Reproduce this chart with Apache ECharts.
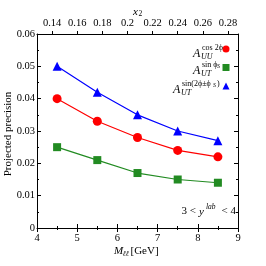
<!DOCTYPE html>
<html><head><meta charset="utf-8">
<script src="https://cdn.jsdelivr.net/npm/echarts@6/dist/echarts.min.js"></script>
<style>html,body{margin:0;padding:0;background:#fff}#c{width:266px;height:266px}</style>
</head><body><div id="c"></div>
<script>
// ---- data ----
const massBins = [4.5, 5.5, 6.5, 7.5, 8.5];            // M_ll [GeV]
const precUUcos2phi = [0.040, 0.033, 0.028, 0.024, 0.022];
const precUTsinphiS = [0.025, 0.021, 0.017, 0.015, 0.014];
const precUTsin2phiS = [0.050, 0.042, 0.035, 0.030, 0.027];
const seriesNames = ['UUcos2phi', 'UTsinphiS', 'UTsin2phiS'];
const massTicksRange = [4, 9];
const x2TickLabels = [0.14, 0.16, 0.18, 0.2, 0.22, 0.24, 0.26, 0.28];
const x2Range = [0.128, 0.288];
const yRange = [0, 0.06];

const SERIF = '"Liberation Serif","DejaVu Serif",serif';
const FS = 10.5;
const black = '#000';

function pairs(v) { return massBins.map((m, i) => [m, v[i]]); }

const lab = (opt) => Object.assign({color: black, fontFamily: SERIF, fontSize: FS}, opt || {});

function txt(text, x, y, size, italic, align, valign) {
  return {type: 'text', x: x, y: y, silent: true, z: 100,
    style: {text: text, fill: black, font: (italic ? 'italic ' : '') + size + 'px ' + SERIF,
      textAlign: align || 'left', textVerticalAlign: valign || 'middle'}};
}

const chart = echarts.init(document.getElementById('c'), null, {renderer: 'canvas'});
chart.setOption({
  animation: false,
  backgroundColor: '#fff',
  grid: {left: 37, right: 28, top: 34, bottom: 38},
  xAxis: [
    { type: 'value', position: 'bottom', min: massTicksRange[0], max: massTicksRange[1], interval: 1,
      axisLine: {show: true, lineStyle: {color: black, width: 1}},
      axisTick: {show: true, inside: true, length: 4, lineStyle: {color: black}},
      minorTick: {show: true, splitNumber: 2, length: 2, lineStyle: {color: black}},
      splitLine: {show: false},
      axisLabel: lab({margin: 5}) },
    { type: 'value', position: 'top', min: x2Range[0], max: x2Range[1],
      axisLine: {show: true, onZero: false, lineStyle: {color: black, width: 1}},
      axisTick: {show: true, inside: false, length: 3, customValues: x2TickLabels, lineStyle: {color: black}},
      splitLine: {show: false},
      axisLabel: lab({margin: 5, customValues: x2TickLabels, formatter: v => String(+(+v).toFixed(2))}) },
    { type: 'value', position: 'top', min: massTicksRange[0], max: massTicksRange[1], interval: 1,
      axisLine: {show: false},
      axisTick: {show: true, inside: true, length: 4, lineStyle: {color: black}},
      minorTick: {show: true, splitNumber: 2, length: 2, lineStyle: {color: black}},
      splitLine: {show: false},
      axisLabel: {show: false} }
  ],
  yAxis: [
    { type: 'value', position: 'left', min: yRange[0], max: yRange[1], interval: 0.01,
      axisLine: {show: true, lineStyle: {color: black, width: 1}},
      axisTick: {show: true, inside: true, length: 4, lineStyle: {color: black}},
      minorTick: {show: true, splitNumber: 2, length: 2, lineStyle: {color: black}},
      splitLine: {show: false},
      axisLabel: lab({margin: 2}) },
    { type: 'value', position: 'right', min: yRange[0], max: yRange[1], interval: 0.01,
      axisLine: {show: true, lineStyle: {color: black, width: 1}},
      axisTick: {show: true, inside: true, length: 4, lineStyle: {color: black}},
      minorTick: {show: true, splitNumber: 2, length: 2, lineStyle: {color: black}},
      splitLine: {show: false},
      axisLabel: {show: false} }
  ],
  legend: {
    orient: 'vertical', left: 222.5, top: 45.5, padding: 0,
    itemWidth: 7, itemHeight: 7, itemGap: 11.5, selectedMode: false,
    formatter: () => '',
    textStyle: {fontSize: 1},
    data: [
      {name: seriesNames[0], icon: 'circle'},
      {name: seriesNames[1], icon: 'rect'},
      {name: seriesNames[2], icon: 'triangle'}
    ]
  },
  series: [
    { name: seriesNames[2], type: 'line', data: pairs(precUTsin2phiS), color: '#0000ff',
      symbol: 'triangle', symbolSize: 9, lineStyle: {width: 1.2}, itemStyle: {color: '#0000ff'} },
    { name: seriesNames[0], type: 'line', data: pairs(precUUcos2phi), color: '#ff0000',
      symbol: 'circle', symbolSize: 9, lineStyle: {width: 1.2}, itemStyle: {color: '#ff0000'} },
    { name: seriesNames[1], type: 'line', data: pairs(precUTsinphiS), color: '#228b22',
      symbol: 'rect', symbolSize: 8, lineStyle: {width: 1.2}, itemStyle: {color: '#228b22'} }
  ],
  graphic: [
    // axis titles
    txt('x', 133, 12, 11, true),
    txt('2', 138.5, 14.5, 7.5, false),
    Object.assign(txt('Projected precision', 8, 134, 11, false, 'center'), {rotation: Math.PI / 2}),
    txt('M', 114, 251, 11, true),
    txt('ℓℓ', 122.5, 254, 7.5, true),
    txt('[GeV]', 130.5, 251, 11, false),
    // legend labels
    txt('A', 193, 53.5, 12, true),
    txt('cos 2ϕ', 202, 48, 8, false),
    txt('UU', 201, 56.5, 8, true),
    txt('A', 193, 70.5, 12, true),
    txt('sin ϕ', 202, 65, 8, false),
    txt('S', 217, 66.5, 6, true),
    txt('UT', 201, 74, 8, true),
    txt('A', 173, 89.5, 12, true),
    txt('sin(2ϕ±ϕ', 182, 84, 8, false),
    txt('S', 213, 85.5, 6, true),
    txt(')', 217, 84, 8, false),
    txt('UT', 181, 92.5, 8, true),
    // rapidity range annotation
    txt('3 <', 196, 211, 11, false, 'right'),
    txt('y', 199, 212, 11, true),
    txt('lab', 206, 207.5, 7.5, true),
    txt('< 4', 236, 211, 11, false, 'right')
  ]
});
</script></body></html>
